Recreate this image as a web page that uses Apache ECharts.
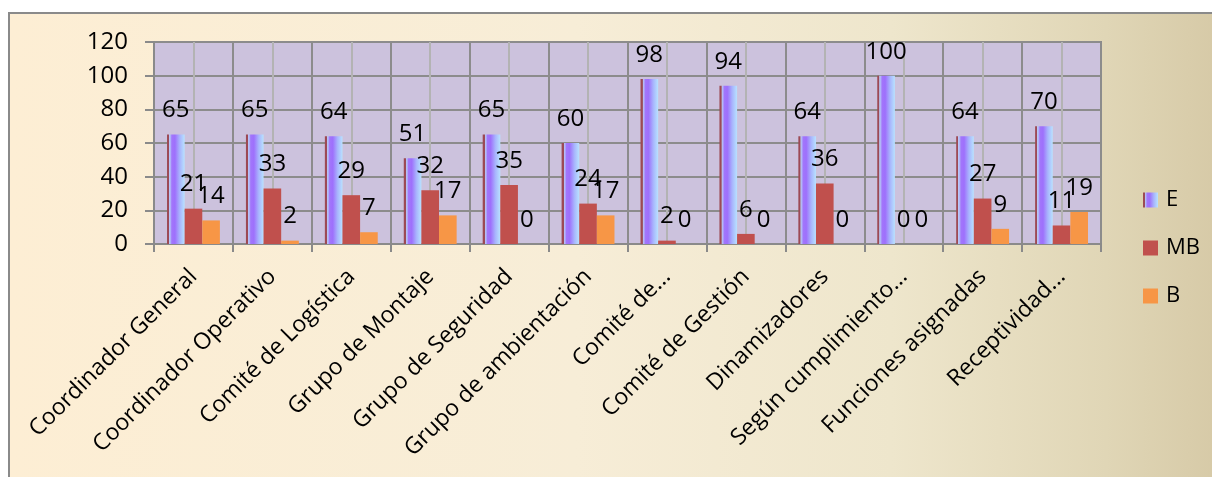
<!DOCTYPE html>
<html>
<head>
<meta charset="utf-8">
<script src="https://cdn.jsdelivr.net/npm/echarts@6/dist/echarts.min.js"></script>
<style>
  html, body { margin: 0; padding: 0; background: #ffffff; }
  #chart { width: 1212px; height: 477px; }
</style>
</head>
<body>
<div id="chart"></div>
<script>
// Evaluated roles and the share (%) of each rating
const categories = [
  'Coordinador General', 'Coordinador Operativo', 'Comité de Logística',
  'Grupo de Montaje', 'Grupo de Seguridad', 'Grupo de ambientación',
  'Comité de...', 'Comité de Gestión', 'Dinamizadores',
  'Según cumplimiento...', 'Funciones asignadas', 'Receptividad...'
];
const seriesNames = ['E', 'MB', 'B'];
const valuesE  = [65, 65, 64, 51, 65, 60, 98, 94, 64, 100, 64, 70];
const valuesMB = [21, 33, 29, 32, 35, 24, 2, 6, 36, 0, 27, 11];
const valuesB  = [14, 2, 7, 17, 0, 17, 0, 0, 0, 0, 9, 19];
const yTicks = [0, 20, 40, 60, 80, 100, 120];

const FONT = 'Open Sans';

const gradientE = {
  type: 'linear', x: 0, y: 0, x2: 1, y2: 0,
  colorStops: [
    { offset: 0.00, color: '#9c4a55' },
    { offset: 0.11, color: '#9c4a55' },
    { offset: 0.13, color: '#b8c8f4' },
    { offset: 0.20, color: '#b0b0f8' },
    { offset: 0.27, color: '#a276fb' },
    { offset: 0.45, color: '#9e70fc' },
    { offset: 0.72, color: '#a8b4fd' },
    { offset: 1.00, color: '#b8e2ff' }
  ]
};

const bgGradient = {
  type: 'linear', x: 0, y: 0, x2: 1, y2: 0,
  colorStops: [
    { offset: 0.00, color: '#fdeed4' },
    { offset: 0.45, color: '#f7edd7' },
    { offset: 0.70, color: '#eee6cc' },
    { offset: 0.87, color: '#e0d6b6' },
    { offset: 1.00, color: '#d2c4a0' }
  ]
};

const valueLabel = {
  show: true,
  position: 'top',
  distance: 12,
  color: '#000',
  fontFamily: FONT,
  fontSize: 24
};

function barSeries(name, data, color) {
  return {
    name: name,
    type: 'bar',
    xAxisIndex: 0,
    yAxisIndex: 0,
    data: data,
    barGap: '0%',
    barCategoryGap: '33%',
    itemStyle: { color: color },
    label: valueLabel,
    z: 3
  };
}

const chart = echarts.init(document.getElementById('chart'), null, { renderer: 'canvas' });

chart.setOption({
  animation: false,
  backgroundColor: '#ffffff',
  graphic: [{
    type: 'rect',
    z: -10,
    silent: true,
    shape: { x: 9, y: 13, width: 1260, height: 520 },
    style: { fill: bgGradient, stroke: '#8a8a8a', lineWidth: 2 }
  }],
  grid: {
    left: 154, top: 42, right: 111, bottom: 233,
    show: true,
    backgroundColor: '#ccc2dd',
    borderColor: '#8a8a8a',
    borderWidth: 2
  },
  legend: {
    orient: 'vertical',
    left: 1143,
    top: 185,
    itemWidth: 15,
    itemHeight: 15,
    itemGap: 18,
    icon: 'rect',
    padding: 0,
    data: seriesNames,
    textStyle: { color: '#000', fontFamily: FONT, fontSize: 22, lineHeight: 30, padding: [0, 0, 0, 3] }
  },
  xAxis: [{
    type: 'category',
    data: categories,
    axisLine: { show: true, lineStyle: { color: '#8a8a8a', width: 2 } },
    axisTick: { show: true, length: 8, alignWithLabel: false, lineStyle: { color: '#8a8a8a', width: 2 } },
    splitLine: { show: false },
    axisLabel: {
      interval: 0,
      rotate: 45,
      margin: 29,
      verticalAlign: 'middle',
      color: '#000',
      fontFamily: FONT,
      fontSize: 23,
      hideOverlap: false
    }
  }, {
    // half-category grid lines: boundaries dark, centres light
    type: 'value',
    min: 0, max: 24, interval: 1,
    position: 'bottom',
    axisLine: { show: false },
    axisTick: { show: false },
    axisLabel: { show: false },
    splitLine: { show: true, lineStyle: { color: ['#8c8c8c', '#b3b3b3'], width: 2 } }
  }],
  yAxis: {
    type: 'value',
    min: yTicks[0],
    max: yTicks[yTicks.length - 1],
    interval: 20,
    axisLine: { show: true, lineStyle: { color: '#8a8a8a', width: 2 } },
    axisTick: { show: true, length: 9, lineStyle: { color: '#8a8a8a', width: 2 } },
    splitLine: { show: true, lineStyle: { color: '#8c8c8c', width: 2 } },
    axisLabel: { margin: 26, color: '#000', fontFamily: FONT, fontSize: 24 }
  },
  series: [
    barSeries(seriesNames[0], valuesE, gradientE),
    barSeries(seriesNames[1], valuesMB, '#c0504d'),
    barSeries(seriesNames[2], valuesB, '#f79646')
  ]
});
</script>
</body>
</html>
